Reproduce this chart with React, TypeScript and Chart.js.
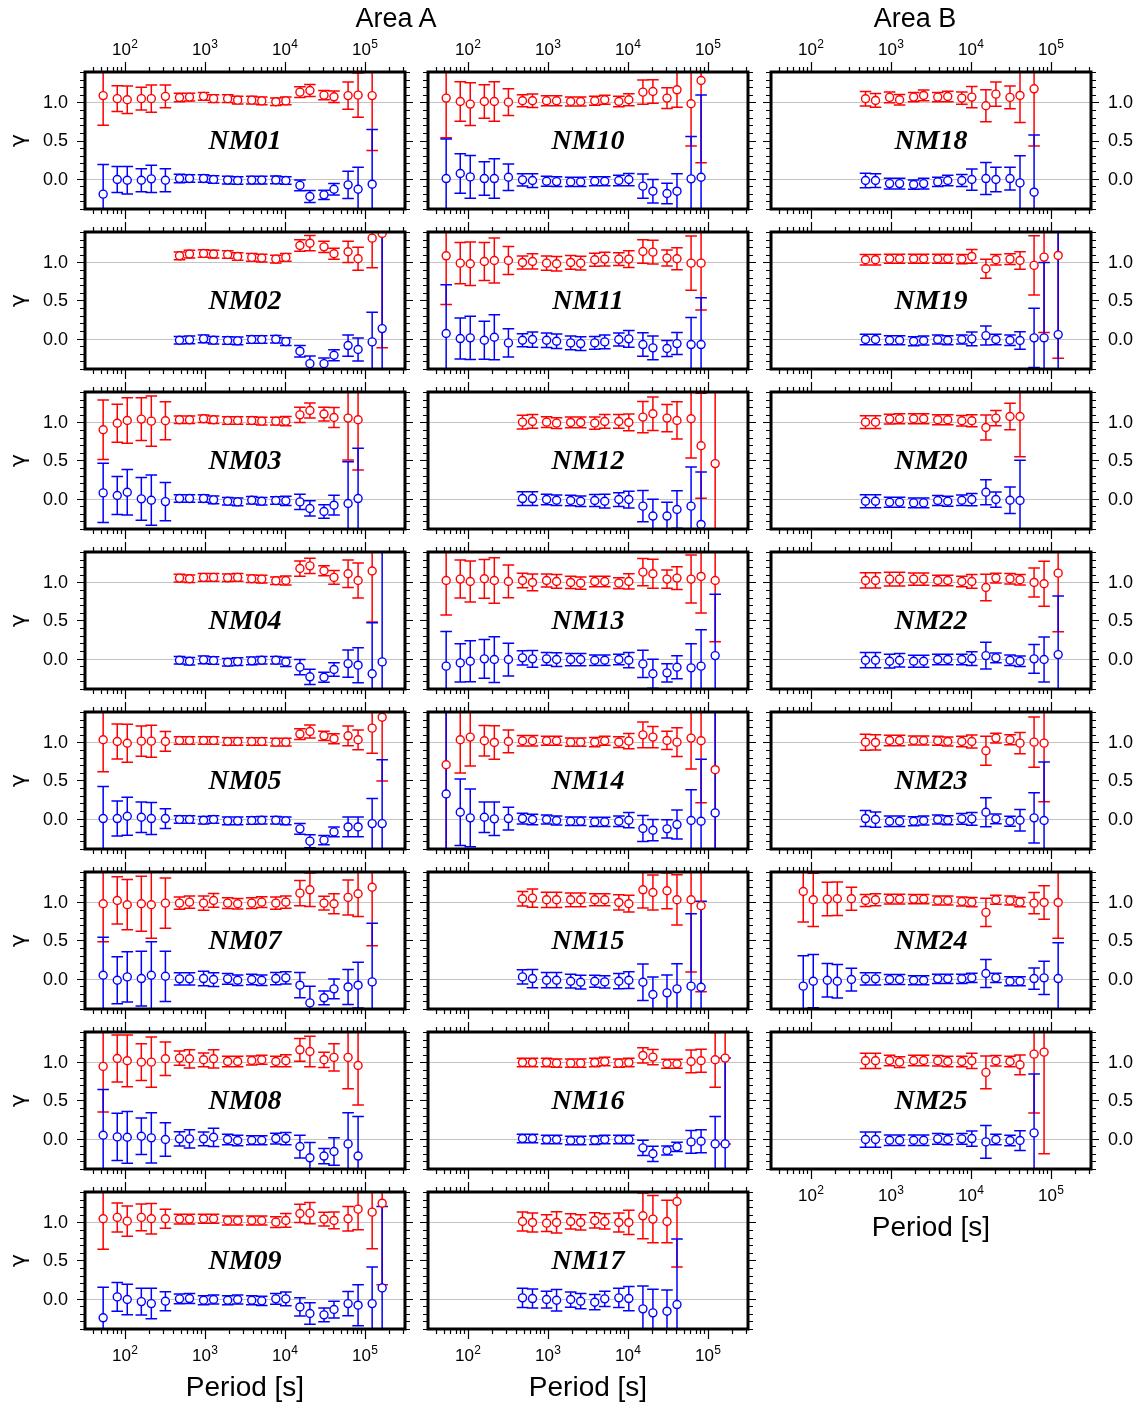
import { useEffect, useRef } from 'react';
import { Chart, registerables } from 'chart.js';

Chart.register(...registerables);

// Periods [s] shared by every station (log-spaced sounding periods)
const PERIODS = [
  53.33, 80, 106.7, 160, 213.3, 320,
  480, 640, 960, 1280, 1920, 2560,
  3840, 5120, 7680, 10240, 15360, 20480,
  30720, 40960, 61440, 81920, 122880, 163840,
];
const X_DECADE_EXPONENTS = [2, 3, 4, 5];
const Y_LABEL_TICKS = [0, 0.5, 1];
const Y_GRID_LINES = [0, 1];

const _ = null;

// Each station: real part (≈1), imaginary part (≈0) and one-sigma error per period
const NM01_RE = [1.09, 1.05, 1.035, 1.05, 1.05, 1.08, 1.065, 1.07, 1.08, 1.05, 1.05, 1.03, 1.03, 1.02, 1.01, 1.02, 1.135, 1.157, 1.096, 1.074, 1.09, 1.096, 1.09, _];
const NM01_IM = [-0.205, -0.013, -0.022, -0.022, -0.004, -0.022, 0, 0, 0, -0.013, -0.02, -0.026, -0.02, -0.02, -0.018, -0.026, -0.09, -0.236, -0.214, -0.14, -0.083, -0.14, -0.074, _];
const NM01_ERR = [0.39, 0.17, 0.18, 0.15, 0.18, 0.15, 0.055, 0.05, 0.05, 0.05, 0.05, 0.05, 0.05, 0.05, 0.05, 0.05, 0.07, 0.08, 0.06, 0.075, 0.18, 0.29, 0.72, _];

const NM02_RE = [_, _, _, _, _, _, 1.087, 1.11, 1.118, 1.11, 1.105, 1.079, 1.066, 1.057, 1.044, 1.066, 1.223, 1.253, 1.205, 1.114, 1.14, 1.048, 1.319, 1.38];
const NM02_IM = [_, _, _, _, _, _, -0.022, -0.017, -0.004, -0.022, -0.026, -0.03, -0.013, -0.013, -0.009, -0.04, -0.166, -0.33, -0.33, -0.22, -0.092, -0.144, -0.044, 0.131];
const NM02_ERR = [_, _, _, _, _, _, 0.05, 0.05, 0.05, 0.05, 0.05, 0.05, 0.05, 0.05, 0.05, 0.05, 0.075, 0.1, 0.075, 0.072, 0.14, 0.15, 0.39, 1.5];

const NM03_RE = [0.904, 0.99, 1.026, 1.044, 1.017, 1.022, 1.035, 1.035, 1.048, 1.035, 1.026, 1.026, 1.026, 1.017, 1.017, 1.017, 1.1, 1.157, 1.11, 1.065, 1.057, 1.035, _, _];
const NM03_IM = [0.074, 0.04, 0.083, -0.004, -0.022, -0.04, 0, 0, 0, -0.017, -0.035, -0.044, -0.022, -0.035, -0.026, -0.03, -0.044, -0.13, -0.17, -0.087, -0.065, 0, _, _];
const NM03_ERR = [0.39, 0.25, 0.3, 0.28, 0.33, 0.25, 0.05, 0.05, 0.05, 0.05, 0.05, 0.05, 0.05, 0.05, 0.05, 0.06, 0.1, 0.1, 0.09, 0.13, 0.55, 0.66, _, _];

const NM04_RE = [_, _, _, _, _, _, 1.057, 1.048, 1.066, 1.066, 1.061, 1.066, 1.048, 1.044, 1.022, 1.026, 1.183, 1.218, 1.153, 1.066, 1.114, 1.026, 1.15, _];
const NM04_IM = [_, _, _, _, _, _, -0.022, -0.035, -0.017, -0.026, -0.048, -0.04, -0.03, -0.022, -0.022, -0.044, -0.114, -0.24, -0.245, -0.144, -0.066, -0.087, -0.2, -0.044];
const NM04_ERR = [_, _, _, _, _, _, 0.05, 0.05, 0.05, 0.05, 0.05, 0.05, 0.05, 0.05, 0.05, 0.06, 0.1, 0.1, 0.065, 0.09, 0.18, 0.23, 0.67, 1.5];

const NM05_RE = [1.035, 1.013, 0.99, 1.017, 1.017, 1.013, 1.026, 1.026, 1.026, 1.026, 1.013, 1.013, 1.013, 1.013, 1.004, 1.004, 1.11, 1.144, 1.087, 1.048, 1.087, 1.035, 1.188, 1.332];
const NM05_IM = [0, 0, 0.03, 0.017, 0, 0, -0.013, -0.013, -0.022, -0.013, -0.03, -0.03, -0.026, -0.022, -0.022, -0.03, -0.135, -0.297, -0.284, -0.175, -0.11, -0.11, -0.066, -0.066];
const NM05_ERR = [0.42, 0.23, 0.25, 0.2, 0.21, 0.13, 0.05, 0.05, 0.05, 0.05, 0.05, 0.05, 0.05, 0.05, 0.05, 0.05, 0.07, 0.085, 0.06, 0.065, 0.13, 0.13, 0.33, 0.84];

const NM07_RE = [0.983, 1.026, 0.97, 0.983, 0.97, 0.991, 0.991, 1.004, 0.991, 1.026, 0.991, 0.983, 0.991, 1.004, 0.991, 1.004, 1.122, 1.166, 0.991, 0.983, 1.066, 1.114, 1.2, _];
const NM07_IM = [0.044, -0.022, 0.022, 0, 0.044, 0.03, -0.004, -0.004, 0, -0.013, -0.004, -0.022, -0.013, -0.022, 0, 0.009, -0.087, -0.32, -0.253, -0.135, -0.11, -0.087, -0.044, _];
const NM07_ERR = [0.5, 0.31, 0.33, 0.36, 0.44, 0.33, 0.08, 0.08, 0.095, 0.09, 0.07, 0.07, 0.07, 0.07, 0.08, 0.08, 0.165, 0.22, 0.09, 0.13, 0.23, 0.3, 0.77, _];

const NM08_RE = [0.948, 1.052, 1.022, 1.004, 1.004, 1.048, 1.057, 1.048, 1.035, 1.048, 1.013, 1.013, 1.026, 1.035, 1.013, 1.022, 1.166, 1.144, 1.035, 1.066, 1.066, 0.96, _, _];
const NM08_IM = [0.044, 0.022, 0.017, 0.03, 0.009, -0.013, -0.004, -0.004, -0.004, 0.017, -0.013, -0.026, -0.022, -0.022, 0, 0, -0.105, -0.253, -0.23, -0.17, -0.07, -0.23, _, _];
const NM08_ERR = [0.6, 0.31, 0.34, 0.24, 0.33, 0.22, 0.095, 0.12, 0.09, 0.12, 0.07, 0.07, 0.06, 0.06, 0.07, 0.08, 0.15, 0.2, 0.1, 0.18, 0.41, 0.52, _, _];

const NM09_RE = [1.048, 1.066, 1.017, 1.066, 1.048, 1.048, 1.044, 1.044, 1.048, 1.048, 1.026, 1.026, 1.026, 1.026, 1.004, 1.026, 1.118, 1.122, 1.044, 1.026, 1.048, 1.175, 1.135, 1.253];
const NM09_IM = [-0.253, 0.022, -0.013, -0.04, -0.066, -0.035, -0.004, 0, -0.022, -0.013, -0.022, -0.013, -0.022, -0.03, -0.004, -0.004, -0.11, -0.196, -0.214, -0.144, -0.066, -0.087, -0.066, 0.14];
const NM09_ERR = [0.4, 0.19, 0.2, 0.175, 0.2, 0.125, 0.065, 0.065, 0.06, 0.06, 0.06, 0.06, 0.06, 0.06, 0.07, 0.09, 0.12, 0.14, 0.09, 0.11, 0.16, 0.27, 0.48, 1.07];

const NM10_RE = [1.057, 1.013, 0.978, 1.013, 1.013, 1.004, 1.022, 1.022, 1.022, 1.022, 1.013, 1.013, 1.022, 1.035, 1.013, 1.035, 1.135, 1.144, 1.057, 1.166, 0.983, 1.288, _, _];
const NM10_IM = [0, 0.066, 0.022, 0, 0, 0.017, -0.017, -0.026, -0.035, -0.04, -0.044, -0.044, -0.035, -0.035, -0.026, -0.013, -0.1, -0.166, -0.196, -0.166, -0.004, 0.017, _, _];
const NM10_ERR = [0.52, 0.26, 0.28, 0.22, 0.26, 0.175, 0.08, 0.09, 0.065, 0.065, 0.06, 0.06, 0.06, 0.06, 0.07, 0.08, 0.16, 0.155, 0.135, 0.23, 0.555, 1.08, _, _];

const NM11_RE = [1.087, 0.991, 0.983, 1.013, 1.026, 1.026, 1.0, 1.013, 0.991, 0.983, 1.0, 0.991, 1.035, 1.044, 1.044, 1.044, 1.144, 1.135, 1.057, 1.048, 0.991, 0.991, _, _];
const NM11_IM = [0.066, 0, 0.009, -0.022, 0.017, -0.057, -0.022, -0.013, -0.022, -0.035, -0.057, -0.066, -0.057, -0.044, -0.013, -0.004, -0.079, -0.122, -0.131, -0.066, -0.079, -0.079, _, _];
const NM11_ERR = [0.64, 0.27, 0.285, 0.25, 0.295, 0.185, 0.085, 0.1, 0.095, 0.095, 0.09, 0.09, 0.085, 0.09, 0.085, 0.11, 0.155, 0.155, 0.105, 0.145, 0.355, 0.615, _, _];

const NM12_RE = [_, _, _, _, _, _, 1.004, 1.013, 1.004, 0.991, 1.0, 1.0, 0.991, 1.013, 1.013, 1.0, 1.07, 1.114, 1.057, 1.026, 1.048, 0.694, 0.459, _];
const NM12_IM = [_, _, _, _, _, _, 0, 0, -0.013, -0.022, -0.026, -0.035, -0.026, -0.035, -0.013, -0.013, -0.1, -0.23, -0.23, -0.144, -0.1, -0.34, _, _];
const NM12_ERR = [_, _, _, _, _, _, 0.09, 0.09, 0.07, 0.07, 0.07, 0.07, 0.08, 0.09, 0.09, 0.11, 0.205, 0.22, 0.18, 0.245, 0.515, 0.69, 1.0, _];

const NM13_RE = [1.026, 1.044, 1.013, 1.048, 1.026, 1.013, 1.026, 1.0, 1.026, 1.013, 1.0, 0.991, 1.013, 1.013, 0.991, 1.013, 1.135, 1.114, 1.044, 1.057, 1.044, 1.079, 1.026, _];
const NM13_IM = [-0.1, -0.057, -0.035, -0.004, -0.013, -0.013, 0.009, -0.004, -0.004, -0.013, -0.013, -0.013, -0.022, -0.022, -0.013, -0.022, -0.07, -0.2, -0.188, -0.114, -0.122, -0.1, 0.039, _];
const NM13_ERR = [0.455, 0.25, 0.27, 0.255, 0.3, 0.215, 0.095, 0.11, 0.085, 0.09, 0.08, 0.08, 0.07, 0.07, 0.07, 0.1, 0.18, 0.19, 0.12, 0.15, 0.315, 0.48, 0.805, _];

const NM14_RE = [0.707, 1.035, 1.07, 1.022, 1.0, 1.013, 1.022, 1.022, 1.022, 1.022, 1.004, 1.004, 1.004, 1.022, 1.004, 1.017, 1.1, 1.07, 1.026, 1.004, 1.057, 1.022, 0.642, _];
const NM14_IM = [0.323, 0.083, 0.009, 0.017, -0.004, 0, 0, -0.013, -0.013, -0.026, -0.035, -0.035, -0.044, -0.044, -0.035, -0.022, -0.13, -0.153, -0.135, -0.079, -0.026, -0.035, 0.074, _];
const NM14_ERR = [1.2, 0.437, 0.38, 0.2, 0.22, 0.15, 0.07, 0.07, 0.06, 0.06, 0.055, 0.055, 0.06, 0.06, 0.07, 0.1, 0.17, 0.14, 0.12, 0.19, 0.405, 0.815, 1.4, _];

const NM15_RE = [_, _, _, _, _, _, 1.048, 1.057, 1.035, 1.035, 1.035, 1.035, 1.035, 1.035, 1.0, 0.983, 1.166, 1.131, 1.153, 1.035, 1.035, 0.956, _, _];
const NM15_IM = [_, _, _, _, _, _, 0.022, 0, -0.022, -0.022, -0.035, -0.048, -0.035, -0.044, -0.035, -0.022, -0.048, -0.21, -0.188, -0.135, -0.1, -0.114, _, _];
const NM15_ERR = [_, _, _, _, _, _, 0.095, 0.12, 0.1, 0.1, 0.09, 0.09, 0.08, 0.08, 0.1, 0.11, 0.24, 0.23, 0.235, 0.33, 0.95, 1.13, _, _];

const NM16_RE = [_, _, _, _, _, _, 1.0, 1.0, 1.0, 0.991, 0.991, 0.991, 1.0, 1.013, 0.991, 1.0, 1.092, 1.07, 0.983, 0.983, 1.013, 1.022, 1.035, 1.057];
const NM16_IM = [_, _, _, _, _, _, 0, 0, -0.013, -0.013, -0.026, -0.026, -0.022, -0.013, -0.013, -0.013, -0.122, -0.2, -0.157, -0.109, -0.044, -0.035, -0.07, -0.07];
const NM16_ERR = [_, _, _, _, _, _, 0.055, 0.055, 0.055, 0.055, 0.055, 0.055, 0.055, 0.055, 0.055, 0.055, 0.1, 0.1, 0.06, 0.06, 0.15, 0.15, 0.36, 1.13];

const NM17_RE = [_, _, _, _, _, _, 1.013, 1.0, 0.991, 1.0, 1.013, 1.0, 1.026, 1.013, 1.0, 1.0, 1.087, 1.044, 1.013, 1.275, _, _, _, _];
const NM17_IM = [_, _, _, _, _, _, 0.009, 0, -0.013, -0.022, -0.013, -0.035, -0.048, -0.004, 0.009, 0, -0.135, -0.188, -0.166, -0.079, _, _, _, _];
const NM17_ERR = [_, _, _, _, _, _, 0.125, 0.125, 0.11, 0.14, 0.1, 0.1, 0.1, 0.1, 0.125, 0.16, 0.3, 0.31, 0.28, 0.86, _, _, _, _];

const NM18_RE = [_, _, _, _, _, _, 1.048, 1.026, 1.066, 1.035, 1.07, 1.092, 1.07, 1.078, 1.057, 1.07, 0.956, 1.109, 1.066, 1.092, 1.179, _, _, _];
const NM18_IM = [_, _, _, _, _, _, -0.026, -0.026, -0.066, -0.066, -0.079, -0.066, -0.044, -0.026, -0.026, -0.013, 0, -0.013, 0, -0.057, -0.179, _, _, _];
const NM18_ERR = [_, _, _, _, _, _, 0.095, 0.09, 0.07, 0.07, 0.06, 0.07, 0.06, 0.07, 0.08, 0.14, 0.21, 0.16, 0.15, 0.355, 0.75, _, _, _];

const NM19_RE = [_, _, _, _, _, _, 1.035, 1.035, 1.048, 1.048, 1.048, 1.048, 1.048, 1.048, 1.044, 1.079, 0.917, 1.035, 1.044, 1.026, 0.961, 1.07, 1.092, _];
const NM19_IM = [_, _, _, _, _, _, -0.013, -0.013, -0.022, -0.022, -0.035, -0.026, -0.013, -0.022, -0.013, -0.004, 0.039, -0.013, -0.022, -0.026, 0.009, 0.009, 0.052, _];
const NM19_ERR = [_, _, _, _, _, _, 0.07, 0.07, 0.06, 0.06, 0.06, 0.06, 0.06, 0.06, 0.06, 0.09, 0.125, 0.07, 0.07, 0.115, 0.39, 0.99, 1.35, _];

const NM20_RE = [_, _, _, _, _, _, 1.004, 1.004, 1.044, 1.048, 1.048, 1.048, 1.035, 1.035, 1.022, 1.022, 0.934, 1.057, 1.078, 1.078, _, _, _, _];
const NM20_IM = [_, _, _, _, _, _, -0.035, -0.035, -0.048, -0.048, -0.057, -0.057, -0.026, -0.035, -0.022, -0.013, 0.083, -0.013, -0.022, -0.026, _, _, _, _];
const NM20_ERR = [_, _, _, _, _, _, 0.085, 0.085, 0.065, 0.065, 0.065, 0.065, 0.065, 0.065, 0.07, 0.08, 0.165, 0.1, 0.175, 0.53, _, _, _, _];

const NM22_RE = [_, _, _, _, _, _, 1.026, 1.026, 1.044, 1.044, 1.044, 1.044, 1.026, 1.026, 1.013, 1.013, 0.934, 1.057, 1.048, 1.035, 1.0, 0.983, 1.122, _];
const NM22_IM = [_, _, _, _, _, _, -0.022, -0.022, -0.035, -0.022, -0.035, -0.035, -0.013, -0.013, -0.013, 0, 0.039, 0.009, -0.022, -0.035, -0.004, -0.013, 0.052, _];
const NM22_ERR = [_, _, _, _, _, _, 0.1, 0.1, 0.09, 0.09, 0.08, 0.08, 0.07, 0.07, 0.07, 0.09, 0.175, 0.065, 0.07, 0.07, 0.19, 0.295, 0.77, _];

const NM23_RE = [_, _, _, _, _, _, 1.004, 1.0, 1.026, 1.026, 1.026, 1.026, 1.022, 1.013, 1.013, 1.013, 0.891, 1.057, 1.035, 0.991, 1.004, 0.991, _, _];
const NM23_IM = [_, _, _, _, _, _, 0, -0.013, -0.035, -0.035, -0.035, -0.026, -0.013, -0.022, -0.004, -0.004, 0.083, -0.004, -0.035, -0.022, 0.009, -0.026, _, _];
const NM23_ERR = [_, _, _, _, _, _, 0.105, 0.1, 0.07, 0.07, 0.06, 0.06, 0.06, 0.06, 0.07, 0.085, 0.19, 0.065, 0.065, 0.14, 0.33, 0.77, _, _];

const NM24_RE = [_, 1.144, 1.035, 1.044, 1.048, 1.048, 1.026, 1.035, 1.044, 1.044, 1.044, 1.044, 1.026, 1.026, 1.013, 1.004, 0.869, 1.035, 1.026, 1.004, 0.991, 1.0, 1.0, _];
const NM24_IM = [_, -0.1, -0.035, -0.022, -0.035, -0.013, -0.004, -0.004, -0.013, -0.013, -0.022, -0.022, -0.004, -0.004, -0.004, 0.009, 0.066, 0.009, -0.035, -0.035, 0, 0.009, 0, _];
const NM24_ERR = [_, 0.4, 0.35, 0.22, 0.22, 0.15, 0.08, 0.08, 0.065, 0.065, 0.06, 0.06, 0.06, 0.06, 0.06, 0.06, 0.185, 0.06, 0.06, 0.06, 0.14, 0.22, 0.47, _];

const NM25_RE = [_, _, _, _, _, _, 1.022, 1.022, 1.026, 1.004, 1.026, 1.026, 1.022, 1.013, 1.013, 1.022, 0.869, 1.022, 1.013, 0.969, 1.109, 1.135, _, _];
const NM25_IM = [_, _, _, _, _, _, -0.013, -0.013, -0.022, -0.022, -0.022, -0.022, -0.004, -0.013, -0.004, 0, -0.044, -0.013, -0.026, -0.026, 0.074, _, _, _];
const NM25_ERR = [_, _, _, _, _, _, 0.1, 0.1, 0.07, 0.07, 0.07, 0.07, 0.07, 0.07, 0.07, 0.1, 0.215, 0.07, 0.07, 0.13, 0.773, 1.335, _, _];

type Series = (number | null)[];
type Station = { name: string; col: number; row: number; re: Series; im: Series; err: Series };

const STATIONS: Station[] = [
  { name: 'NM01', col: 0, row: 0, re: NM01_RE, im: NM01_IM, err: NM01_ERR },
  { name: 'NM02', col: 0, row: 1, re: NM02_RE, im: NM02_IM, err: NM02_ERR },
  { name: 'NM03', col: 0, row: 2, re: NM03_RE, im: NM03_IM, err: NM03_ERR },
  { name: 'NM04', col: 0, row: 3, re: NM04_RE, im: NM04_IM, err: NM04_ERR },
  { name: 'NM05', col: 0, row: 4, re: NM05_RE, im: NM05_IM, err: NM05_ERR },
  { name: 'NM07', col: 0, row: 5, re: NM07_RE, im: NM07_IM, err: NM07_ERR },
  { name: 'NM08', col: 0, row: 6, re: NM08_RE, im: NM08_IM, err: NM08_ERR },
  { name: 'NM09', col: 0, row: 7, re: NM09_RE, im: NM09_IM, err: NM09_ERR },
  { name: 'NM10', col: 1, row: 0, re: NM10_RE, im: NM10_IM, err: NM10_ERR },
  { name: 'NM11', col: 1, row: 1, re: NM11_RE, im: NM11_IM, err: NM11_ERR },
  { name: 'NM12', col: 1, row: 2, re: NM12_RE, im: NM12_IM, err: NM12_ERR },
  { name: 'NM13', col: 1, row: 3, re: NM13_RE, im: NM13_IM, err: NM13_ERR },
  { name: 'NM14', col: 1, row: 4, re: NM14_RE, im: NM14_IM, err: NM14_ERR },
  { name: 'NM15', col: 1, row: 5, re: NM15_RE, im: NM15_IM, err: NM15_ERR },
  { name: 'NM16', col: 1, row: 6, re: NM16_RE, im: NM16_IM, err: NM16_ERR },
  { name: 'NM17', col: 1, row: 7, re: NM17_RE, im: NM17_IM, err: NM17_ERR },
  { name: 'NM18', col: 2, row: 0, re: NM18_RE, im: NM18_IM, err: NM18_ERR },
  { name: 'NM19', col: 2, row: 1, re: NM19_RE, im: NM19_IM, err: NM19_ERR },
  { name: 'NM20', col: 2, row: 2, re: NM20_RE, im: NM20_IM, err: NM20_ERR },
  { name: 'NM22', col: 2, row: 3, re: NM22_RE, im: NM22_IM, err: NM22_ERR },
  { name: 'NM23', col: 2, row: 4, re: NM23_RE, im: NM23_IM, err: NM23_ERR },
  { name: 'NM24', col: 2, row: 5, re: NM24_RE, im: NM24_IM, err: NM24_ERR },
  { name: 'NM25', col: 2, row: 6, re: NM25_RE, im: NM25_IM, err: NM25_ERR },
];

// Panel grid geometry (page pixels)
const COL_LEFT = [85, 428, 771];
const PANEL_W = 320;
const PANEL_H = 137;
const TOP0 = 72;
const PITCH = 160;
const LAST_ROW = [7, 7, 6];

const X_MIN = Math.pow(10, 1.5);
const X_MAX = Math.pow(10, 5.5);
const Y_MIN = -0.4;
const Y_MAX = 1.4;

const RED = '#ff0000';
const BLUE = '#0000ff';
const SANS = '"Liberation Sans", Arial, Helvetica, sans-serif';
const SERIF = '"Liberation Serif", "Times New Roman", Times, serif';
const CAP = 5.8;

type Pt = { x: number; y: number; e: number };

function toPoints(vals: Series, err: Series): Pt[] {
  const out: Pt[] = [];
  PERIODS.forEach((p, i) => {
    const v = vals[i];
    if (v !== null && v !== undefined) out.push({ x: p, y: v, e: err[i] ?? 0 });
  });
  return out;
}

function drawDecadeLabel(ctx: CanvasRenderingContext2D, cx: number, baseline: number, exp: number) {
  ctx.font = `17px ${SANS}`;
  const w1 = ctx.measureText('10').width;
  ctx.font = `12px ${SANS}`;
  const w2 = ctx.measureText(String(exp)).width;
  const x0 = cx - (w1 + w2 + 0.5) / 2;
  ctx.textAlign = 'left';
  ctx.textBaseline = 'alphabetic';
  ctx.fillStyle = '#000';
  ctx.font = `17px ${SANS}`;
  ctx.fillText('10', x0, baseline);
  ctx.font = `12px ${SANS}`;
  ctx.fillText(String(exp), x0 + w1 + 0.5, baseline - 7);
}

function makeDecor(st: Station, isTop: boolean, isBottom: boolean) {
  return {
    id: 'panelDecor',
    beforeDatasetsDraw(chart: any) {
      const { ctx, chartArea: a, scales } = chart;
      const xs = scales.x;
      const ys = scales.y;
      ctx.save();
      // reference lines at 0 and 1
      ctx.strokeStyle = '#c4c4c4';
      ctx.lineWidth = 1;
      ctx.beginPath();
      Y_GRID_LINES.forEach((v) => {
        const py = Math.round(ys.getPixelForValue(v)) + 0.5;
        ctx.moveTo(a.left, py);
        ctx.lineTo(a.right, py);
      });
      ctx.stroke();

      ctx.beginPath();
      ctx.rect(a.left, a.top, a.right - a.left, a.bottom - a.top);
      ctx.clip();
      ctx.lineWidth = 1.5;
      // error bars: red series first, blue on top
      for (let d = chart.data.datasets.length - 1; d >= 0; d--) {
        const ds = chart.data.datasets[d];
        ctx.strokeStyle = ds.pointBorderColor;
        ctx.beginPath();
        (ds.data as Pt[]).forEach((p) => {
          if (!p.e) return;
          const px = xs.getPixelForValue(p.x);
          const y1 = ys.getPixelForValue(p.y + p.e);
          const y2 = ys.getPixelForValue(p.y - p.e);
          ctx.moveTo(px, y1);
          ctx.lineTo(px, y2);
          ctx.moveTo(px - CAP, y1);
          ctx.lineTo(px + CAP, y1);
          ctx.moveTo(px - CAP, y2);
          ctx.lineTo(px + CAP, y2);
        });
        ctx.stroke();
      }
      ctx.restore();
    },
    afterDatasetsDraw(chart: any) {
      const { ctx, chartArea: a, scales } = chart;
      const xs = scales.x;
      const ys = scales.y;
      ctx.save();
      // station name
      ctx.fillStyle = '#000';
      ctx.font = `italic bold 28px ${SERIF}`;
      ctx.textAlign = 'center';
      ctx.textBaseline = 'middle';
      ctx.fillText(st.name, (a.left + a.right) / 2, (a.top + a.bottom) / 2 + 1);

      // outward tick marks on all four sides
      ctx.strokeStyle = '#000';
      ctx.lineWidth = 1.2;
      ctx.beginPath();
      for (let k = 1; k <= 5; k++) {
        for (let m = 1; m <= 9; m++) {
          const v = m * Math.pow(10, k);
          if (v < X_MIN || v > X_MAX) continue;
          const px = Math.round(xs.getPixelForValue(v)) + 0.5;
          const len = m === 1 ? 10 : 5;
          ctx.moveTo(px, a.bottom);
          ctx.lineTo(px, a.bottom + len);
          ctx.moveTo(px, a.top);
          ctx.lineTo(px, a.top - len);
        }
      }
      for (let j = -4; j <= 14; j++) {
        const v = j / 10;
        const py = Math.round(ys.getPixelForValue(v)) + 0.5;
        const len = j % 5 === 0 ? 8 : 5;
        ctx.moveTo(a.left, py);
        ctx.lineTo(a.left - len, py);
        ctx.moveTo(a.right, py);
        ctx.lineTo(a.right + len, py);
      }
      ctx.stroke();

      // frame
      ctx.lineWidth = 3;
      ctx.strokeRect(a.left, a.top, a.right - a.left, a.bottom - a.top);

      // gamma tick labels (left column on the left, right column on the right)
      ctx.fillStyle = '#000';
      ctx.font = `18px ${SANS}`;
      ctx.textBaseline = 'middle';
      if (st.col !== 1) {
        Y_LABEL_TICKS.forEach((v) => {
          const py = ys.getPixelForValue(v);
          if (st.col === 0) {
            ctx.textAlign = 'right';
            ctx.fillText(v.toFixed(1), a.left - 17, py + 1);
          } else {
            ctx.textAlign = 'left';
            ctx.fillText(v.toFixed(1), a.right + 17, py + 1);
          }
        });
      }
      if (st.col === 0) {
        ctx.save();
        ctx.translate(a.left - 66, (a.top + a.bottom) / 2);
        ctx.rotate(-Math.PI / 2);
        ctx.textAlign = 'center';
        ctx.textBaseline = 'middle';
        ctx.font = `22px "DejaVu Sans", ${SANS}`;
        ctx.fillText('γ', 0, 0);
        ctx.restore();
      }

      // decade labels
      X_DECADE_EXPONENTS.forEach((exp) => {
        const px = xs.getPixelForValue(Math.pow(10, exp));
        if (isTop) drawDecadeLabel(ctx, px, a.top - 17, exp);
        if (isBottom) drawDecadeLabel(ctx, px, a.bottom + 32, exp);
      });
      ctx.restore();
    },
  };
}

function Panel({ st }: { st: Station }) {
  const ref = useRef<HTMLCanvasElement>(null);
  const isTop = st.row === 0;
  const isBottom = st.row === LAST_ROW[st.col];
  const ml = st.col === 0 ? 85 : 24;
  const mr = st.col === 2 ? 53 : 24;
  const mt = isTop ? 60 : 16;
  const mb = isBottom ? 46 : 16;
  const w = ml + PANEL_W + mr;
  const h = mt + PANEL_H + mb;
  const left = COL_LEFT[st.col] - ml;
  const top = TOP0 + PITCH * st.row - mt;

  useEffect(() => {
    const canvas = ref.current;
    if (!canvas) return;
    const pointStyle = (color: string) => ({
      showLine: false,
      pointRadius: 4,
      pointHoverRadius: 4,
      pointBorderWidth: 1.4,
      pointBorderColor: color,
      pointBackgroundColor: '#ffffff',
      borderColor: color,
      backgroundColor: '#ffffff',
      clip: 0,
    });
    const chart = new Chart(canvas, {
      type: 'scatter',
      data: {
        datasets: [
          { label: 'Im', data: toPoints(st.im, st.err), ...pointStyle(BLUE) },
          { label: 'Re', data: toPoints(st.re, st.err), ...pointStyle(RED) },
        ] as any,
      },
      options: {
        responsive: false,
        animation: false,
        events: [],
        devicePixelRatio: 1,
        layout: { padding: { left: ml, right: mr, top: mt, bottom: mb } },
        plugins: { legend: { display: false }, tooltip: { enabled: false } },
        scales: {
          x: { type: 'logarithmic', min: X_MIN, max: X_MAX, display: false },
          y: { type: 'linear', min: Y_MIN, max: Y_MAX, display: false },
        },
      } as any,
      plugins: [makeDecor(st, isTop, isBottom)],
    });
    return () => chart.destroy();
  }, []);

  return (
    <canvas
      ref={ref}
      width={w}
      height={h}
      style={{ position: 'absolute', left, top, width: w, height: h }}
    />
  );
}

const textStyle = (cx: number, top: number, size: number): any => ({
  position: 'absolute',
  left: cx - 150,
  width: 300,
  top,
  textAlign: 'center',
  fontFamily: SANS,
  fontSize: size,
  lineHeight: '32px',
  color: '#000',
  whiteSpace: 'nowrap',
});

export default function App() {
  return (
    <div style={{ position: 'absolute', left: 0, top: 0, width: 1144, height: 1406, background: '#fff', overflow: 'hidden' }}>
      {STATIONS.map((st) => (
        <Panel key={st.name} st={st} />
      ))}
      <div style={textStyle(396, 2, 27)}>Area A</div>
      <div style={textStyle(915, 2, 27)}>Area B</div>
      <div style={textStyle(245, 1371, 28)}>Period [s]</div>
      <div style={textStyle(588, 1371, 28)}>Period [s]</div>
      <div style={textStyle(931, 1211, 28)}>Period [s]</div>
    </div>
  );
}
